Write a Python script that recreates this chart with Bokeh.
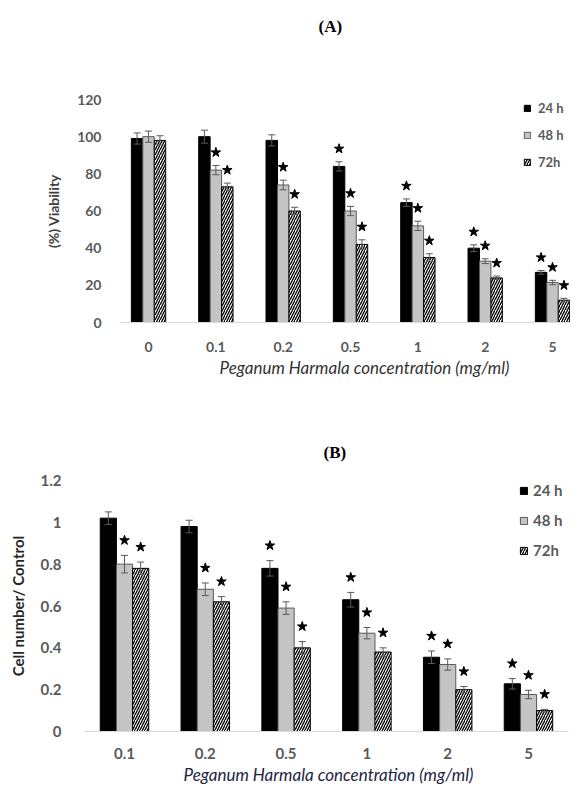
import numpy as np
from bokeh.plotting import figure
from bokeh.models import (ColumnDataSource, Whisker, TeeHead, Legend, LegendItem,
                          Title, FixedTicker, Range1d)
from bokeh.layouts import column
from bokeh.embed import file_html
from bokeh.resources import INLINE

# ---------------- Data: panel (A) ----------------
conc_a = ["0", "0.1", "0.2", "0.5", "1", "2", "5"]
via_24 = [99, 100, 98, 84, 64.5, 40, 27]
via_48 = [100, 82, 74, 60, 52, 33, 21.5]
via_72 = [98, 73, 60, 42, 35, 24, 12]
err_a_24 = [3, 3.5, 3, 2.5, 2, 1.8, 1]
err_a_48 = [3, 2.5, 2.6, 2.5, 2.5, 1.3, 1.2]
err_a_72 = [2.5, 2, 2, 2.5, 2, 1, 1]
sig_a_24 = [0, 0, 0, 1, 1, 1, 1]
sig_a_48 = [0, 1, 1, 1, 1, 1, 1]
sig_a_72 = [0, 1, 1, 1, 1, 1, 1]
yticks_a = [0, 20, 40, 60, 80, 100, 120]
ytick_labels_a = ["0", "20", "40", "60", "80", "100", "120"]

# ---------------- Data: panel (B) ----------------
conc_b = ["0.1", "0.2", "0.5", "1", "2", "5"]
cell_24 = [1.02, 0.98, 0.78, 0.63, 0.355, 0.228]
cell_48 = [0.80, 0.68, 0.59, 0.47, 0.32, 0.177]
cell_72 = [0.78, 0.62, 0.40, 0.38, 0.20, 0.10]
err_b_24 = [0.03, 0.03, 0.037, 0.035, 0.03, 0.025]
err_b_48 = [0.042, 0.03, 0.03, 0.027, 0.027, 0.02]
err_b_72 = [0.03, 0.025, 0.03, 0.02, 0.015, 0.006]
sig_b_24 = [0, 0, 1, 1, 1, 1]
sig_b_48 = [1, 1, 1, 1, 1, 1]
sig_b_72 = [1, 1, 1, 1, 1, 1]
yticks_b = [0, 0.2, 0.4, 0.6, 0.8, 1.0, 1.2]
ytick_labels_b = ["0", "0.2", "0.4", "0.6", "0.8", "1", "1.2"]

series = ["24 h", "48 h", "72h"]
x_title = "Peganum Harmala concentration (mg/ml)"

STYLES = [
    dict(fill_color="black", line_color="black"),
    dict(fill_color="#c4c4c4", line_color="#595959"),
    dict(fill_color="white", line_color="black", hatch_pattern="/",
         hatch_color="black", hatch_scale=5, hatch_weight=1.3),
]
FONT = "Lato"
HEAD_FONT = dict(text_font="Liberation Serif", text_font_style="bold",
                 text_font_size="17px")


def make_panel(cats, vals, errs, sigs, yticks, ylabels, ymax, xrange_, xbounds,
               bw, star_off, height, borders, ytitle, ytitle_color,
               xtitle_color, xtitle_size, fs, title, title_offset, title_standoff,
               spacer_standoff, xtitle_offset, xtitle_standoff, legend_loc,
               legend_cfg, ylab_standoff, xlab_standoff, ytitle_standoff):
    p = figure(width=570, height=height, output_backend="svg",
               toolbar_location=None, title_location=None,
               x_range=Range1d(*xrange_), y_range=Range1d(0, ymax),
               min_border_left=borders[0], min_border_right=borders[1],
               min_border_top=borders[2], min_border_bottom=borders[3])
    n = len(cats)
    idx = np.arange(n)
    offsets = [-bw, 0.0, bw]
    renderers = []
    for k in range(3):
        v = np.array(vals[k], dtype=float)
        e = np.array(errs[k], dtype=float)
        src = ColumnDataSource(dict(x=idx + offsets[k], top=v,
                                    upper=v + e, lower=v - e))
        r = p.vbar(x="x", top="top", width=bw, source=src, line_width=1,
                   **STYLES[k])
        renderers.append(r)
        wk = Whisker(base="x", upper="upper", lower="lower", source=src,
                     line_color="#5a5a5a", line_width=1, level="overlay",
                     upper_head=TeeHead(size=7, line_color="#5a5a5a", line_width=1),
                     lower_head=TeeHead(size=7, line_color="#5a5a5a", line_width=1))
        p.add_layout(wk)
        s = np.array(sigs[k]) == 1
        p.scatter(x=(idx + offsets[k])[s], y=(v + e)[s] + star_off,
                  marker="star", size=10, color="black")

    # axes
    p.xaxis.ticker = FixedTicker(ticks=list(range(n)))
    p.xaxis.major_label_overrides = {i: c for i, c in enumerate(cats)}
    p.xaxis.bounds = xbounds
    p.yaxis.ticker = FixedTicker(ticks=yticks)
    p.yaxis.major_label_overrides = {t: l for t, l in zip(yticks, ylabels)}
    for ax in (p.xaxis, p.yaxis):
        ax.major_tick_line_color = None
        ax.minor_tick_line_color = None
        ax.major_label_text_font = FONT
        ax.major_label_text_font_style = "bold"
        ax.major_label_text_font_size = fs
        ax.major_label_text_color = "#5a5a5a"
    p.yaxis.axis_line_color = None
    p.xaxis.axis_line_color = "#d9d9d9"
    p.yaxis.major_label_standoff = ylab_standoff
    p.xaxis.major_label_standoff = xlab_standoff
    p.yaxis.axis_label = ytitle
    p.yaxis.axis_label_text_font = FONT
    p.yaxis.axis_label_text_font_style = "bold"
    p.yaxis.axis_label_text_font_size = fs
    p.yaxis.axis_label_text_color = ytitle_color
    p.yaxis.axis_label_standoff = ytitle_standoff

    p.grid.visible = False
    p.outline_line_color = None

    # panel heading (a blank spacer title sits between heading and frame)
    if spacer_standoff is not None:
        p.add_layout(Title(text=" ", standoff=spacer_standoff, text_color="white",
                           **HEAD_FONT), "above")
    p.add_layout(Title(text=title, align="left", offset=title_offset,
                       standoff=title_standoff, text_color="black",
                       **HEAD_FONT), "above")
    # x axis title
    p.add_layout(Title(text=x_title, align="left", offset=xtitle_offset,
                       standoff=xtitle_standoff, text_font=FONT,
                       text_font_style="italic", text_font_size=xtitle_size,
                       text_color=xtitle_color), "below")

    items = [LegendItem(label=series[k], renderers=[renderers[k]]) for k in range(3)]
    leg = Legend(items=items, location=legend_loc, orientation="vertical",
                 padding=0, margin=0, border_line_color=None,
                 background_fill_alpha=0, label_text_font=FONT,
                 label_text_font_style="bold", label_text_color="#5a5a5a",
                 **legend_cfg)
    p.add_layout(leg)
    return p


pA = make_panel(conc_a, [via_24, via_48, via_72], [err_a_24, err_a_48, err_a_72],
                [sig_a_24, sig_a_48, sig_a_72], yticks_a, ytick_labels_a, 120,
                (-0.951, 6.267), (-0.43, 6.267), 0.17, 7, 390, (84, 0, 99, 68),
                "(%) Viability", "#404040", "#333333", "17px", "14px",
                "(A)", 234, 10, 38, 135, 0, (439, 150),
                dict(glyph_width=8, glyph_height=8, label_standoff=7, spacing=7,
                     label_height=20, label_text_font_size="13px"),
                -23, 13, 12)

pB = make_panel(conc_b, [cell_24, cell_48, cell_72], [err_b_24, err_b_48, err_b_72],
                [sig_b_24, sig_b_48, sig_b_72], yticks_b, ytick_labels_b, 1.2,
                (-0.495, 5.52), (-0.495, 5.49), 0.2, 0.072, 394, (84, 0, 90, 53),
                "Cell number/ Control", "#262626", "#1c2444", "17px", "15px",
                "(B)", 239, 37, None, 99, 0, (435, 171),
                dict(glyph_width=9, glyph_height=9, label_standoff=5, spacing=10,
                     label_height=20, label_text_font_size="15px"),
                17, 10, 11)

layout = column(pA, pB, spacing=0)
open("out.html", "w").write(file_html(layout, INLINE))
